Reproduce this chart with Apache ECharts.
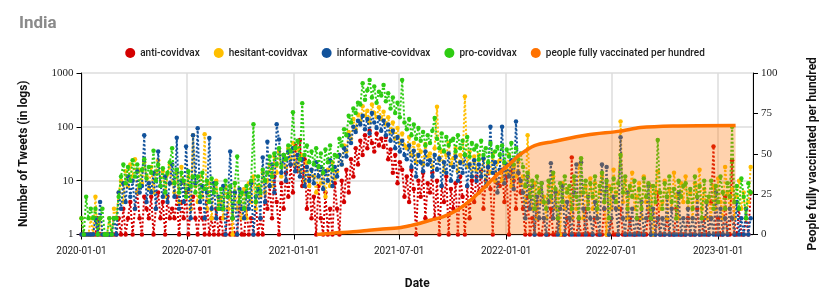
<!DOCTYPE html>
<html><head><meta charset="utf-8">
<script src="https://cdn.jsdelivr.net/npm/echarts@6/dist/echarts.min.js"></script>
<style>html,body{margin:0;padding:0;background:#fff}#c{width:830px;height:303px}</style>
</head><body><div id="c"></div>
<script>
// Sampled every 4 days starting 2020-01-01
const startDate = '2020-01-01';
const stepDays = 4;

const antiCovidvax = [
1,1,1,1,1,1,1,2,1,1, 1,1,1,1,1,1,2,1,3,1, 2,4,1,3,6,2,1,5,3,2, 5,1,3,6,2,4,1,5,2,3,
2,5,1,4,2,6,1,3,5,2, 1,3,2,1,4,1,2,1,3,1, 2,1,1,3,1,2,1,1,4,1, 1,3,1,2,1,4,1,2,1,6,
3,8,2,12,4,1,9,3,14,5, 20,6,45,15,57,8,25,3,12,2, 5,1,8,2,1,6,1,3,1,9, 3,1,10,4,16,6,25,12,40,20,
55,30,70,40,85,50,35,75,45,60, 42,65,25,38,14,30,9,22,16,5, 12,4,16,7,1,10,5,14,2,9, 6,14,2,10,1,8,4,12,1,7,
3,9,1,12,5,1,8,2,10,4, 12,6,15,3,10,18,7,1,14,9, 8,16,4,12,1,15,10,3,14,6, 3,1,5,1,2,1,4,1,1,2,
1,1,3,1,1,2,1,1,1,2, 1,27,1,1,2,1,1,3,1,1, 1,2,1,1,1,3,1,1,2,1, 1,1,3,1,1,1,2,1,1,1,
2,1,1,1,3,1,1,1,6,1, 1,1,2,1,1,1,3,1,1,1, 1,2,1,1,1,3,1,1,2,1, 1,4,43,1,2,1,1,5,1,1,
24,1,1,3,1,1,2,1,6
];
const hesitantCovidvax = [
2,1,1,1,2,1,5,1,2,1, 1,1,2,1,3,2,6,10,4,15, 8,20,12,25,6,16,9,22,12,7, 18,6,14,24,8,15,5,13,20,9,
6,14,4,18,9,7,12,3,70,8, 4,12,5,73,3,9,2,7,10,3, 5,2,8,3,6,1,9,3,5,2, 7,2,9,4,12,3,8,5,14,6,
10,20,8,28,14,35,12,30,18,40, 25,50,20,40,15,30,10,22,8,16, 12,6,18,9,14,5,16,8,22,11, 15,30,20,45,35,80,60,140,90,170,
130,240,160,200,120,260,180,150,230,140, 190,110,150,80,120,60,95,50,75,45, 40,65,30,50,22,45,35,20,48,28, 32,18,40,237,24,36,15,30,50,20,
26,40,15,30,22,365,18,35,12,28, 16,30,12,25,8,20,14,32,10,22, 24,10,20,14,30,8,18,12,22,9, 12,4,70,6,3,9,2,7,4,5,
2,8,4,12,3,6,1,9,3,7, 5,2,10,3,20,6,2,8,4,11, 3,9,2,6,12,4,1,8,3,16, 6,3,125,4,10,2,7,14,3,5,
9,2,12,4,3,8,1,6,15,3, 4,10,2,7,3,14,5,2,9,4, 12,3,6,2,9,4,16,3,7,2, 5,2,8,3,11,4,2,18,6,3,
7,2,5,10,3,6,2,4,18
];
const informativeCovidvax = [
1,1,1,1,1,1,2,1,4,1, 1,1,1,1,2,1,6,3,9,4, 12,5,10,3,15,6,8,70,4,9, 6,14,3,35,8,5,12,4,9,20,
5,63,3,10,4,43,7,2,70,9, 94,4,8,2,6,62,3,9,2,5, 3,8,1,5,35,2,6,1,7,3, 2,6,3,9,1,5,7,2,27,4,
53,8,20,6,112,58,14,30,10,35, 20,40,15,30,12,25,8,18,10,16, 9,22,12,18,7,15,10,24,8,18, 12,30,20,40,28,70,50,100,80,130,
110,160,90,140,75,180,120,95,150,85, 130,70,110,55,85,40,65,35,55,30, 25,45,18,36,12,30,22,15,35,20, 24,12,30,16,26,8,22,14,32,10,
18,28,10,22,14,30,8,20,12,24, 10,20,12,26,8,18,100,14,22,6, 16,100,9,20,12,24,7,125,14,10, 6,2,12,3,8,1,5,2,9,2,
1,4,21,2,6,1,3,8,1,4, 2,1,6,20,1,22,3,1,5,2, 1,4,2,1,20,3,18,1,2,5, 3,1,64,2,1,6,1,3,1,2,
1,4,1,2,8,1,3,1,2,1, 2,1,5,1,3,1,1,6,1,2, 1,3,1,2,1,5,1,2,1,4, 1,2,1,6,1,3,1,2,1,3,
2,1,4,1,2,1,3,1,2
];
const proCovidvax = [
2,1,5,2,3,2,3,1,2,3, 1,1,2,1,2,2,5,12,20,9, 18,10,24,12,20,8,16,25,11,18, 14,36,10,20,8,17,6,14,22,40,
9,16,6,14,10,5,15,8,12,6, 12,5,14,7,10,4,11,6,9,3, 7,3,10,5,8,2,9,28,4,6, 3,8,5,10,112,4,12,6,16,10,
14,28,12,32,20,40,18,30,25,45, 35,186,40,55,25,275,30,45,22,35, 20,40,18,32,14,38,22,45,16,30, 28,60,45,90,70,160,120,220,180,280,
260,645,320,480,740,350,560,280,450,380, 600,300,420,220,350,180,280,150,740,120, 90,140,70,110,60,95,55,80,45,70, 50,85,146,60,40,75,35,65,45,55,
60,35,70,40,55,30,65,28,50,38, 45,25,55,30,40,22,50,28,35,42, 30,45,22,38,28,50,20,40,25,32, 18,8,14,5,10,3,12,6,9,4,
3,10,5,14,7,2,9,4,12,6, 8,3,12,5,2,26,6,10,3,9, 5,12,3,8,14,4,10,2,7,11, 4,9,30,6,12,3,8,5,10,2,
7,3,11,5,9,2,8,4,57,6, 3,9,5,12,4,7,2,10,5,8, 9,4,7,3,12,5,8,2,10,4, 5,10,3,8,4,12,6,3,9,5,
100,4,8,3,11,5,2,9,6
];
const vaccDates = ['2021-02-09','2021-03-01','2021-03-20','2021-04-19','2021-05-10','2021-05-29','2021-07-01','2021-07-20','2021-08-06','2021-08-25','2021-09-15','2021-10-08','2021-10-31','2021-11-23','2021-12-16','2022-01-08','2022-01-23','2022-02-19','2022-03-23','2022-05-20','2022-07-17','2022-08-20','2022-10-15','2023-01-31'];
const vaccValues = [0,0.6,1.2,1.8,2.6,3.2,4.2,5.5,7,9,11,15,21,28.6,36.8,44,49,55,57.5,61.6,64,66.2,67.2,67.5];
const leftTicks = [1,10,100,1000];

const seriesNames = ['anti-covidvax','hesitant-covidvax','informative-covidvax','pro-covidvax','people fully vaccinated per hundred'];
const colors = ['#d40000','#ffbf00','#11529b','#2ecc12','#ff7200'];

function dateAt(i){
  const d = new Date(startDate + 'T00:00:00Z');
  d.setUTCDate(d.getUTCDate() + i*stepDays);
  return d.toISOString().slice(0,10);
}
function pairs(arr){ return arr.map((v,i)=>[dateAt(i), v]); }

const tweetSeries = [antiCovidvax, hesitantCovidvax, informativeCovidvax, proCovidvax].map((arr,k)=>({
  name: seriesNames[k], type:'line', yAxisIndex:0, data: pairs(arr),
  symbol:'circle', symbolSize:4.5, showSymbol:true,
  lineStyle:{type:'dotted', width:2, color:colors[k]},
  itemStyle:{color:colors[k]}, z: 2+k, animation:false
}));

const chart = echarts.init(document.getElementById('c'), null, {renderer:'canvas'});
chart.setOption({
  animation:false,
  color: colors,
  title:{text:'India', left:14, top:10, textStyle:{fontFamily:'Roboto', fontSize:17, fontWeight:'bold', color:'#8a8a8a'}},
  legend:{top:43, left:'center', icon:'circle', itemWidth:10, itemHeight:10, itemGap:14,
    textStyle:{fontFamily:'Roboto', fontSize:10, color:'#222', fontWeight:500}, data: seriesNames},
  grid:{left:81.5, right:77, top:73, bottom:68.5, containLabel:false},
  xAxis:{type:'time', min:'2020-01-01', max:'2023-03-02',
    minInterval:180*86400000, maxInterval:185*86400000,
    name:'Date', nameLocation:'middle', nameGap:43,
    nameTextStyle:{fontFamily:'Roboto', fontSize:12, fontWeight:'bold', color:'#111'},
    axisLine:{lineStyle:{color:'#000', width:1}},
    axisTick:{show:true, length:5, lineStyle:{color:'#000'}},
    axisLabel:{fontFamily:'Roboto', fontSize:10, color:'#222', margin:12, hideOverlap:false,
      formatter:(v)=>echarts.time.format(v,'{yyyy}-{MM}-{dd}',false)},
    splitLine:{show:true, lineStyle:{color:'#dcdcdc', width:1.5}}
  },
  yAxis:[
    {type:'log', logBase:10, min:leftTicks[0], max:leftTicks[leftTicks.length-1], position:'left',
     name:'Number of Tweets (in logs)', nameLocation:'middle', nameGap:52, nameRotate:90,
     nameTextStyle:{fontFamily:'Roboto', fontSize:12, fontWeight:'bold', color:'#111'},
     axisLine:{show:true, lineStyle:{color:'#000'}},
     axisTick:{show:true, length:5, lineStyle:{color:'#000'}},
     axisLabel:{fontFamily:'Liberation Serif', fontSize:11, color:'#222', margin:8, formatter:(v)=>String(Math.round(v))},
     splitLine:{show:true, lineStyle:{color:'#dcdcdc', width:1.5}}},
    {type:'value', min:0, max:100, interval:25, position:'right',
     name:'People fully vaccinated per hundred', nameLocation:'middle', nameGap:54, nameRotate:90,
     nameTextStyle:{fontFamily:'Roboto', fontSize:12, fontWeight:'bold', color:'#111'},
     axisLine:{show:true, lineStyle:{color:'#000'}},
     axisTick:{show:true, length:5, lineStyle:{color:'#000'}},
     axisLabel:{fontFamily:'Liberation Serif', fontSize:11, color:'#222', margin:8},
     splitLine:{show:false}}
  ],
  series: tweetSeries.concat([{
    name: seriesNames[4], type:'line', yAxisIndex:1,
    data: vaccDates.map((d,i)=>[d, vaccValues[i]]),
    smooth:0.3, showSymbol:false, symbol:'circle',
    lineStyle:{width:3.5, color:colors[4]}, itemStyle:{color:colors[4]},
    areaStyle:{color:colors[4], opacity:0.32}, z:10
  }])
});
</script></body></html>
